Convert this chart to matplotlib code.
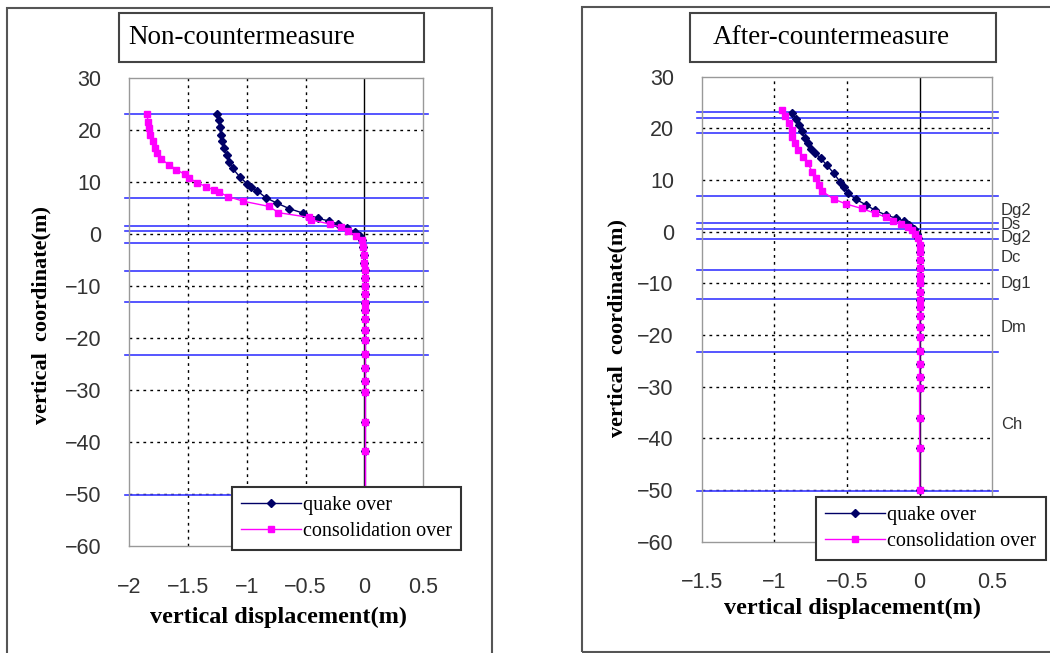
import matplotlib
matplotlib.use("Agg")
import matplotlib.pyplot as plt
from matplotlib.patches import Rectangle

W, H = 1050, 653

# layer boundaries (m)
layers_left = [23.1, 7.0, 1.6, 0.6, -1.7, -7.2, -13.0, -23.2, -50.2]
layers_right = [23.1, 22.1, 19.2, 7.0, 1.6, 0.6, -1.5, -7.4, -13.0, -23.2, -50.2]
layer_names = ["Dg2", "Ds", "Dg2", "Dc", "Dg1", "Dm", "Ch"]
layer_name_y = [4.2, 1.4, -1.2, -4.9, -10.1, -18.6, -37.4]

# depth below 0 (shared by both runs)
deep_y = [-0.4, -1.2, -2.5, -4.0, -5.5, -7.0, -8.5, -10.0, -11.6, -13.2, -14.6,
          -16.3, -18.4, -20.3, -23.0, -25.7, -28.2, -30.3, -36.1, -41.8, -50.0]

# Non-countermeasure : quake over
nc_quake_y = [23.1, 21.9, 20.6, 19.0, 17.8, 16.5, 15.2, 13.9, 12.6, 11.0, 9.7,
              9.0, 8.3, 7.0, 5.9, 4.9, 4.0, 3.0, 2.5, 1.9, 1.1, 0.45] + deep_y
nc_quake_x = [-1.25, -1.24, -1.23, -1.22, -1.21, -1.19, -1.17, -1.15, -1.12, -1.06,
              -1.0, -0.96, -0.91, -0.84, -0.74, -0.64, -0.52, -0.39, -0.30, -0.22,
              -0.15, -0.08,
              -0.04, -0.02, -0.01, 0.0, 0.0, 0.01, 0.01, 0.01, 0.01, 0.01, 0.01,
              0.01, 0.01, 0.01, 0.01, 0.01, 0.01, 0.01, 0.01, 0.01, 0.01]
# Non-countermeasure : consolidation over
nc_cons_y = [23.1, 21.6, 20.3, 19.0, 17.8, 16.5, 15.5, 14.4, 13.3, 12.4, 11.5,
             10.7, 9.9, 9.1, 8.5, 8.1, 7.2, 6.3, 5.3, 4.1, 3.2, 2.7, 1.9, 1.3,
             0.65] + deep_y
nc_cons_x = [-1.85, -1.84, -1.83, -1.82, -1.80, -1.78, -1.76, -1.73, -1.66, -1.60,
             -1.53, -1.49, -1.42, -1.35, -1.28, -1.24, -1.16, -1.03, -0.81, -0.73,
             -0.47, -0.45, -0.29, -0.20, -0.14,
             -0.07, -0.02, -0.01, 0.0, 0.0, 0.01, 0.01, 0.01, 0.01, 0.01, 0.01,
             0.01, 0.01, 0.01, 0.01, 0.01, 0.01, 0.01, 0.01, 0.01, 0.01]

# After-countermeasure : quake over
ac_quake_y = [23.0, 21.9, 20.7, 19.4, 18.1, 17.1, 16.1, 15.2, 14.2, 12.9, 11.3,
              9.7, 8.6, 7.4, 6.3, 5.2, 4.2, 3.2, 2.6, 2.1, 1.3, 0.6] + deep_y
ac_quake_x = [-0.88, -0.85, -0.83, -0.81, -0.79, -0.77, -0.75, -0.72, -0.68, -0.64,
              -0.59, -0.55, -0.52, -0.49, -0.44, -0.37, -0.31, -0.23, -0.16, -0.11,
              -0.07, -0.04,
              -0.02, -0.01, 0.0, 0.0, 0.0, 0.0, 0.0, 0.0, 0.0, 0.0, 0.0,
              0.0, 0.0, 0.0, 0.0, 0.0, 0.0, 0.0, 0.0, 0.0, 0.0]
# After-countermeasure : consolidation over
ac_cons_y = [23.5, 22.3, 21.0, 19.7, 18.4, 17.1, 15.8, 14.4, 13.3, 11.6, 10.3,
             9.0, 7.8, 6.3, 5.4, 4.5, 3.6, 2.8, 2.1, 1.5, 1.0, 0.3] + deep_y
ac_cons_x = [-0.95, -0.93, -0.90, -0.88, -0.88, -0.86, -0.84, -0.80, -0.77, -0.74,
             -0.71, -0.69, -0.67, -0.59, -0.51, -0.40, -0.31, -0.23, -0.18, -0.13,
             -0.08, -0.05,
             -0.03, -0.01, 0.0, 0.0, 0.0, 0.0, 0.0, 0.0, 0.0, 0.0, 0.0,
             0.0, 0.0, 0.0, 0.0, 0.0, 0.0, 0.0, 0.0, 0.0, 0.0]

yticks = [30, 20, 10, 0, -10, -20, -30, -40, -50, -60]
xticks_left = [-2, -1.5, -1, -0.5, 0, 0.5]
xticks_right = [-1.5, -1, -0.5, 0, 0.5]

SERIF = "Liberation Serif"
SANS = "Liberation Sans"
NAVY = "#000066"
MAG = "#ff00ff"
BLUE = "#3838ff"


def fx(px):
    return px / W


def fy(py):
    return 1 - py / H


def fmt(t):
    return f"{t:g}".replace("-", "\u2212")


def panel(rect, xticks, layers, qx, qy, cx, cy):
    ax = fig.add_axes(rect)
    ax.set_xlim(xticks[0], xticks[-1])
    ax.set_ylim(-60, 30)
    ax.set_xticks(xticks)
    ax.set_yticks(yticks)
    ax.set_xticklabels([fmt(t) for t in xticks])
    ax.set_yticklabels([fmt(t) for t in yticks])
    for lab in ax.get_xticklabels() + ax.get_yticklabels():
        lab.set_fontfamily(SANS)
        lab.set_fontsize(15.5)
        lab.set_color("#333333")
    ax.tick_params(length=0)
    ax.tick_params(axis="x", pad=22)
    ax.tick_params(axis="y", pad=20)
    for s in ax.spines.values():
        s.set_color("#999999")
        s.set_linewidth(1)
    for t in xticks[1:-1]:
        if t != 0:
            ax.axvline(t, color="black", ls=(0, (2, 3)), lw=1, zorder=1)
    for t in yticks[1:-1]:
        ax.axhline(t, color="black", ls=(0, (2, 3)), lw=1, zorder=1)
    ax.axvline(0, color="black", lw=1, zorder=1)
    for y in layers:
        ax.axhline(y, xmin=-0.015, xmax=1.018, color=BLUE, lw=1.2,
                   clip_on=False, zorder=2)
    hq, = ax.plot(qx, qy, color=NAVY, marker="D", ms=4.5, lw=1,
                  label="quake over", zorder=3)
    hc, = ax.plot(cx, cy, color=MAG, marker="s", ms=5, lw=1,
                  label="consolidation over", zorder=4)
    return ax, [hq, hc]


fig = plt.figure(figsize=(W / 100, H / 100), dpi=100)

# outer frames
fig.patches.append(Rectangle((fx(7), fy(660)), fx(492) - fx(7), fy(8) - fy(660),
                             transform=fig.transFigure, fill=False,
                             ec="#555555", lw=1.5))
fig.patches.append(Rectangle((fx(582), fy(652)), fx(1060) - fx(582), fy(7) - fy(652),
                             transform=fig.transFigure, fill=False,
                             ec="#555555", lw=1.5))

# left panel
axl, hl = panel([fx(129.3), fy(546), fx(423) - fx(129.3), fy(78) - fy(546)],
                xticks_left, layers_left, nc_quake_x, nc_quake_y,
                nc_cons_x, nc_cons_y)
# right panel
axr, hr = panel([fx(701.7), fy(541.7), fx(992.3) - fx(701.7), fy(76.7) - fy(541.7)],
                xticks_right, layers_right, ac_quake_x, ac_quake_y,
                ac_cons_x, ac_cons_y)

for name, y in zip(layer_names, layer_name_y):
    axr.text(0.56, y, name, fontsize=12, family=SANS, color="#333333",
             va="center", ha="left", clip_on=False)

# title boxes
for x0, x1, tx, title in [(119, 424, 128, "Non-countermeasure"),
                          (690, 996, 713, "After-countermeasure")]:
    fig.patches.append(Rectangle((fx(x0), fy(62)), fx(x1) - fx(x0), fy(13) - fy(62),
                                 transform=fig.transFigure, fill=False,
                                 ec="#444444", lw=1.5))
    fig.text(fx(tx), fy(38), title, family=SERIF, fontsize=19.5,
             va="center", ha="left")

# axis labels
fig.text(fx(279), fy(617), "vertical displacement(m)", family=SERIF,
         fontsize=17.5, fontweight="bold", ha="center", va="center")
fig.text(fx(852), fy(608), "vertical displacement(m)", family=SERIF,
         fontsize=17.5, fontweight="bold", ha="center", va="center")
fig.text(fx(41), fy(315), "vertical  coordinate(m)", family=SERIF,
         fontsize=16, fontweight="bold", ha="center", va="center", rotation=90)
fig.text(fx(617), fy(328), "vertical  coordinate(m)", family=SERIF,
         fontsize=16, fontweight="bold", ha="center", va="center", rotation=90)

# legends
for handles, x0, y0 in [(hl, 231.7, 486.7), (hr, 816, 496.7)]:
    leg = fig.legend(handles=handles, loc="upper left",
                     bbox_to_anchor=(fx(x0), fy(y0)), borderaxespad=0,
                     prop={"family": SERIF, "size": 14.5}, numpoints=1,
                     handlelength=3.0, handletextpad=0.1, labelspacing=0.35,
                     fancybox=False, framealpha=1, edgecolor="#333333",
                     borderpad=0.45)
    leg.get_frame().set_linewidth(1.5)

fig.savefig("out.png", dpi=100)
